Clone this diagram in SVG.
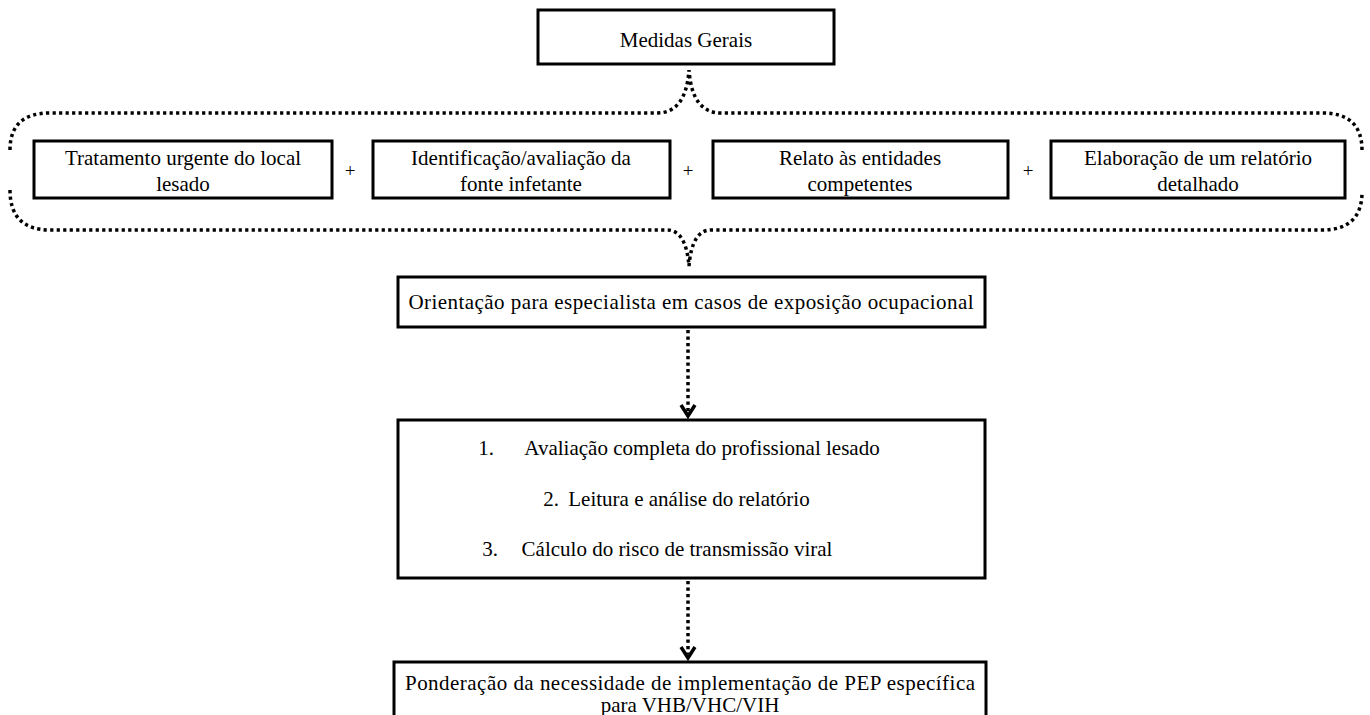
<svg xmlns="http://www.w3.org/2000/svg" width="1370" height="715" viewBox="0 0 1370 715">
  <defs>
    <style>
      .box { fill: #ffffff; stroke: #000000; stroke-width: 3; }
      .dots { fill: none; stroke: #000000; stroke-width: 3.5; stroke-dasharray: 3.2 3.3; }
      .head { fill: none; stroke: #000000; stroke-width: 3.5; stroke-linejoin: miter; }
    </style>
  </defs>
  <rect width="1370" height="715" fill="#ffffff"/>

  <!-- connectors: dotted braces around the four general measures, dotted arrows -->
  <g id="connectors">
    <path class="dots" d="M10,150 Q10,113 50,113 L657,113 Q686,113 689,70 Q692,113 721,113 L1322,113 Q1362,113 1362,150"/>
    <path class="dots" d="M10,190 Q10,230 50,230 L667,230 Q686,230 689,266 Q692,230 711,230 L1322,230 Q1362,230 1362,192"/>
    <line class="dots" x1="688" y1="330" x2="688" y2="412"/>
    <polyline class="head" points="681,405 688,416 695,405"/>
    <line class="dots" x1="688" y1="581" x2="688" y2="654"/>
    <polyline class="head" points="681,647 688,658 695,647"/>
  </g>

  <g id="medidas-gerais">
    <rect class="box" x="538" y="10" width="296" height="54"/>
    <text x="686" y="47" style="font-family: 'Liberation Serif', serif; font-size: 21px; text-anchor: middle; fill: #000000">Medidas Gerais</text>
  </g>

  <g id="tratamento">
    <rect class="box" x="34" y="141" width="298" height="57"/>
    <text x="183" y="165" style="font-family: 'Liberation Serif', serif; font-size: 21px; text-anchor: middle; fill: #000000">Tratamento urgente do local</text>
    <text x="183" y="191" style="font-family: 'Liberation Serif', serif; font-size: 21px; text-anchor: middle; fill: #000000">lesado</text>
  </g>
  <text x="350" y="177" style="font-family: 'Liberation Serif', serif; font-size: 19px; text-anchor: middle; fill: #000000">+</text>

  <g id="identificacao">
    <rect class="box" x="373" y="141" width="297" height="57"/>
    <text x="521" y="165" style="font-family: 'Liberation Serif', serif; font-size: 21px; text-anchor: middle; fill: #000000">Identificação/avaliação da</text>
    <text x="521" y="191" style="font-family: 'Liberation Serif', serif; font-size: 21px; text-anchor: middle; fill: #000000">fonte infetante</text>
  </g>
  <text x="688" y="177" style="font-family: 'Liberation Serif', serif; font-size: 19px; text-anchor: middle; fill: #000000">+</text>

  <g id="relato">
    <rect class="box" x="713" y="141" width="295" height="57"/>
    <text x="860" y="165" style="font-family: 'Liberation Serif', serif; font-size: 21px; text-anchor: middle; fill: #000000">Relato às entidades</text>
    <text x="860" y="191" style="font-family: 'Liberation Serif', serif; font-size: 21px; text-anchor: middle; fill: #000000">competentes</text>
  </g>
  <text x="1028" y="177" style="font-family: 'Liberation Serif', serif; font-size: 19px; text-anchor: middle; fill: #000000">+</text>

  <g id="elaboracao">
    <rect class="box" x="1051" y="141" width="294" height="57"/>
    <text x="1198" y="165" style="font-family: 'Liberation Serif', serif; font-size: 21px; text-anchor: middle; fill: #000000">Elaboração de um relatório</text>
    <text x="1198" y="191" style="font-family: 'Liberation Serif', serif; font-size: 21px; text-anchor: middle; fill: #000000">detalhado</text>
  </g>

  <g id="orientacao">
    <rect class="box" x="398" y="277" width="587" height="50"/>
    <text x="691" y="309" textLength="565" lengthAdjust="spacing" style="font-family: 'Liberation Serif', serif; font-size: 21px; text-anchor: middle; fill: #000000">Orientação para especialista em casos de exposição ocupacional</text>
  </g>

  <g id="avaliacao">
    <rect class="box" x="398" y="420" width="587" height="158"/>
    <text x="486" y="455" style="font-family: 'Liberation Serif', serif; font-size: 21px; text-anchor: middle; fill: #000000">1.</text>
    <text x="702" y="455" style="font-family: 'Liberation Serif', serif; font-size: 21px; text-anchor: middle; fill: #000000">Avaliação completa do profissional lesado</text>
    <text x="551" y="506" style="font-family: 'Liberation Serif', serif; font-size: 21px; text-anchor: middle; fill: #000000">2.</text>
    <text x="689" y="506" style="font-family: 'Liberation Serif', serif; font-size: 21px; text-anchor: middle; fill: #000000">Leitura e análise do relatório</text>
    <text x="490" y="556" style="font-family: 'Liberation Serif', serif; font-size: 21px; text-anchor: middle; fill: #000000">3.</text>
    <text x="677" y="556" style="font-family: 'Liberation Serif', serif; font-size: 21px; text-anchor: middle; fill: #000000">Cálculo do risco de transmissão viral</text>
  </g>

  <g id="ponderacao">
    <rect class="box" x="394" y="662" width="592" height="58"/>
    <text x="690" y="690" textLength="570" lengthAdjust="spacing" style="font-family: 'Liberation Serif', serif; font-size: 21px; text-anchor: middle; fill: #000000">Ponderação da necessidade de implementação de PEP específica</text>
    <text x="690" y="712" style="font-family: 'Liberation Serif', serif; font-size: 21px; text-anchor: middle; fill: #000000">para VHB/VHC/VIH</text>
  </g>
</svg>
